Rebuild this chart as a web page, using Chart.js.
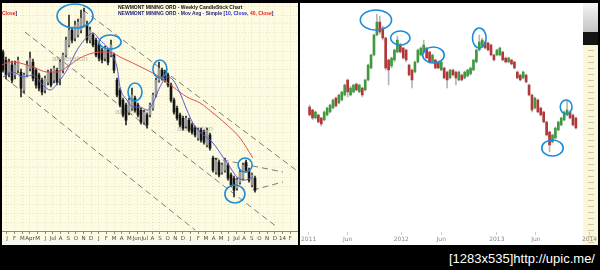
<!DOCTYPE html>
<html>
<head>
<meta charset="utf-8">
<script src="https://cdn.jsdelivr.net/npm/chart.js@4.4.0/dist/chart.umd.min.js"></script>
<style>
  html, body { margin:0; padding:0; background:#000; }
  #wrap { position:relative; width:600px; height:270px; overflow:hidden; background:#000; }
  .abs { position:absolute; }
  .tiny { font: bold 10px 'Liberation Sans', sans-serif; transform: scale(0.5); transform-origin: 0 0; white-space: nowrap; }
  .mark { font: 16px 'Liberation Sans', sans-serif; color:#8c8c8c; opacity:0.55; transform: scale(0.5); transform-origin: 0 0; white-space: nowrap; }
</style>
</head>
<body>
<div id="wrap">
  <div class="abs" style="left:2px;top:3px;width:296px;height:242px;background:#fdfbe1;"></div>
  <div class="abs" style="left:2px;top:239px;width:296px;height:6px;background:#f6f6f0;"></div>
  <div class="abs mark" style="left:52px;top:54px;">akberaton</div>
  <div class="abs mark" style="left:115px;top:107px;">akberaton</div>
  <div class="abs mark" style="left:177px;top:124px;">akberaton</div>

  <div class="abs" style="left:300px;top:3px;width:283px;height:242px;background:#fff;"></div>
  <div class="abs" style="left:583px;top:3px;width:15px;height:242px;background:#fbf6da;"></div>
  <div class="abs" style="left:588px;top:45px;width:6px;height:200px;background:repeating-linear-gradient(to bottom,#fbf6da 0 5px,#cfc7a0 5px 6px);"></div>
  <div class="abs" style="left:583px;top:3px;width:15px;height:29px;background:linear-gradient(#f4f4f4,#c4c4c4);"></div>
  <div class="abs" style="left:583px;top:32px;width:15px;height:13px;background:#141414;"></div>

  <canvas id="left" class="abs" style="left:2px;top:3px;" width="296" height="242"></canvas>
  <canvas id="right" class="abs" style="left:300px;top:3px;" width="298" height="242"></canvas>

  <div class="abs tiny" style="left:118px;top:4px;color:#111;">NEWMONT MINING ORD - Weekly CandleStick Chart</div>
  <div class="abs tiny" style="left:118px;top:10px;color:#22227a;">NEWMONT MINING ORD - Mov Avg - Simple [<span style="color:#1c1cf0">10, Close,</span> <span style="color:#e42020">40, Close</span>]</div>
  <div class="abs tiny" style="left:2px;top:10px;color:#22227a;"><span style="color:#e42020">Close</span>]</div>

  <div class="abs" style="left:449px;top:251px;color:#fff;font:13px 'Liberation Sans',sans-serif;white-space:nowrap;">[1283x535]http://upic.me/</div>
</div>
<script>
// Newmont weekly candles (left panel)
var leftOpen = [61.7, 59.7, 56.7, 58.5, 56, 57.2, 56.7, 52.2, 56, 57.7,
    59.2, 57.2, 56, 54.7, 52.2, 54.2, 56.7, 54.7, 57.2, 55.2,
    57.2, 61, 63.5, 67.2, 65.2, 66, 67.2, 68.5, 68.5, 64.7,
    66, 64.7, 63.5, 62.2, 60.2, 62.2, 61, 61, 54.7, 52.2,
    49.7, 48.5, 46.7, 47.7, 50.2, 48.5, 47.2, 44.2, 46, 46,
    47.7, 51, 54.7, 57.2, 56.7, 56, 53.5, 49.7, 47.7, 46,
    45.2, 43.2, 44.7, 43.5, 42.7, 40.2, 42.2, 41.7, 38.5, 41,
    35.2, 31.7, 34.2, 31.7, 32.2, 33.5, 31, 30.2, 27.7, 29.2,
    30.2, 34.2, 32.2, 28.5, 30.2];
var leftHigh = [62.2, 60.5, 60, 59.5, 59.5, 60.5, 57.5, 56.5, 59.5, 61.7,
    60, 57.7, 56.5, 55.2, 55.7, 57.2, 57.5, 58.2, 57.7, 59.7,
    61.5, 65.5, 71, 68, 69.5, 70, 72.2, 72.7, 69.5, 68,
    66.5, 65.2, 64, 62.7, 63.2, 62.7, 64.7, 61.5, 55.2, 52.7,
    50.2, 49, 50.2, 52.7, 50.7, 49, 47.7, 47.2, 46.5, 49,
    51.5, 55.2, 59.2, 57.7, 57.2, 56.5, 54, 50.2, 48.2, 46.5,
    45.7, 45.7, 45.2, 44, 43.2, 42.7, 42.7, 42.2, 42.7, 41.5,
    35.7, 35.2, 34.7, 34, 35.2, 34, 31.5, 30.7, 30.2, 32.2,
    34, 34.7, 32.7, 31.5, 30.7];
var leftLow = [56.7, 55, 55.5, 54, 55, 56.5, 50.5, 51.5, 55.5, 57,
    54.5, 52.7, 52, 51, 51.5, 53.5, 53, 54, 53.5, 53.5,
    56.5, 60.5, 63, 64, 64.5, 65.5, 66.5, 68, 64, 64,
    63, 60.5, 59.5, 59, 59.5, 58.5, 60.5, 56.5, 50.5, 48,
    45.5, 43.5, 46, 47.2, 46.7, 45.5, 43.7, 43.7, 42.7, 45.5,
    47.2, 50.5, 54.2, 54.7, 54.2, 53, 49.2, 46.2, 44.7, 43,
    42.2, 42.7, 41.7, 41.2, 40.5, 39.7, 39.2, 38.7, 38, 37.2,
    31.7, 31.2, 30.5, 31.2, 31.7, 29.7, 28, 25.5, 27.2, 28.7,
    29.7, 31.7, 29.2, 28, 26.7];
var leftClose = [57.2, 56, 59.2, 54.7, 58.5, 59.7, 52.7, 56, 58.5, 60.2,
    55.2, 53.5, 52.7, 51.7, 55.2, 56.7, 53.5, 57.7, 54.2, 59.2,
    61, 64.7, 67.2, 64.7, 68.5, 69.2, 70.2, 71.7, 64.7, 67.2,
    63.5, 61, 60.2, 59.7, 62.7, 59.2, 63.5, 57.2, 51, 48.5,
    46, 44.7, 49.7, 51, 47.2, 46, 44.2, 46.7, 43.5, 48.5,
    51, 54.7, 57.7, 55.2, 54.7, 53.5, 49.7, 46.7, 45.2, 43.5,
    42.7, 45.2, 42.2, 41.7, 41, 42.2, 39.7, 39.2, 42.2, 37.7,
    32.2, 34.7, 31, 33.5, 34.7, 30.2, 28.5, 27.2, 29.7, 31.7,
    33.5, 32.2, 29.7, 31, 27.2];

// moving averages (week index, price)
var ma10X = [0, 3.3, 6.7, 10, 13.3, 15.7, 19, 21.3, 24.7, 28, 30, 32.3, 34.7, 36.7, 38, 39, 41.3, 43.3, 45.7, 48,
    50, 52.3, 54.7, 56.7, 59, 61.3, 63.3, 65.7, 70, 73.3, 76.3, 78, 80.7, 83.3];
var ma10 = [55.5, 56.75, 55.5, 56, 53.5, 52.25, 54.75, 57.25, 62.25, 65.5, 66.5, 64.75, 63, 60.5, 58, 53, 49.75, 48, 48, 47.25,
    49, 53, 55.5, 54.75, 51.5, 47.25, 44, 41.75, 39, 35.5, 32.25, 30.5, 29.75, 30.5];
var ma40X = [-0.4, 2.3, 5.7, 10, 14.7, 18, 21.3, 25.7, 30, 33.3, 36.7, 39, 43.3, 48, 52.3, 56.7, 61.3, 65.7, 70, 74.7, 79, 83.3];
var ma40 = [58.5, 59.25, 59, 58, 56.75, 56.75, 58, 60.25, 61.5, 61.75, 61.5, 60.5, 59, 57.25, 55.5, 53, 50.5, 49, 46.5, 43.5, 40.25, 35.25];

// dashed trend lines [x0, y0, x1, y1]
var chanA = [26.7, 72.25, 99, 31.5];
var chanB = [7.3, 66.75, 91.3, 18];
var chanC = [0.7, 55.25, 64, 17.25];
var triUp = [70, 35.25, 93.3, 31.75];
var triLow = [83.3, 27.25, 93.3, 29.25];

// circled spots [x, y, rx, ry]
var leftOvals = [[24, 70.75, 6, 3], [35.7, 64.25, 3.67, 1.75], [44, 51.75, 2.33, 2.25],
    [52.3, 57.5, 2.33, 2.25], [80.7, 33.5, 2.33, 1.75], [77.3, 26.25, 3.33, 2.25]];

var leftMonths = ['J', 'F', 'M', 'Apr', 'M', 'J', 'Jul', 'A', 'S', 'O', 'N', 'D',
    'J', 'F', 'M', 'A', 'M', 'Jun', 'Jul', 'A', 'S', 'O', 'N', 'D',
    'J', 'F', 'M', 'A', 'M', 'J', 'Jul', 'A', 'S', 'O', 'N', 'D', '14', 'F'];

// right panel weekly candles
var rightOpen = [1376, 1358, 1310, 1328, 1310, 1298, 1328, 1346, 1370, 1430,
    1400, 1418, 1448, 1538, 1448, 1466, 1514, 1466, 1490, 1478,
    1538, 1610, 1688, 1808, 1886, 1850, 1790, 1658, 1622, 1658,
    1706, 1748, 1730, 1718, 1628, 1598, 1586, 1646, 1688, 1706,
    1730, 1706, 1646, 1658, 1646, 1598, 1610, 1586, 1550, 1598,
    1586, 1538, 1568, 1550, 1562, 1574, 1598, 1646, 1718, 1742,
    1766, 1760, 1748, 1688, 1688, 1688, 1706, 1670, 1646, 1658,
    1646, 1586, 1568, 1550, 1568, 1508, 1448, 1370, 1418, 1370,
    1346, 1286, 1226, 1166, 1190, 1238, 1268, 1298, 1328, 1346,
    1328, 1310];
var rightHigh = [1388, 1364, 1352, 1334, 1316, 1352, 1376, 1394, 1424, 1436,
    1454, 1472, 1514, 1544, 1500, 1514, 1520, 1514, 1496, 1544,
    1634, 1694, 1814, 1934, 1922, 1862, 1796, 1664, 1676, 1724,
    1802, 1760, 1736, 1724, 1634, 1604, 1652, 1724, 1736, 1778,
    1736, 1712, 1694, 1664, 1652, 1652, 1616, 1592, 1604, 1604,
    1592, 1592, 1574, 1592, 1604, 1616, 1664, 1724, 1808, 1790,
    1772, 1766, 1754, 1694, 1724, 1736, 1712, 1676, 1676, 1664,
    1652, 1592, 1574, 1592, 1574, 1514, 1454, 1436, 1424, 1376,
    1352, 1292, 1232, 1214, 1256, 1292, 1316, 1352, 1418, 1352,
    1334, 1316];
var rightLow = [1322, 1300, 1304, 1280, 1262, 1292, 1322, 1340, 1364, 1376,
    1394, 1412, 1442, 1436, 1442, 1460, 1472, 1460, 1436, 1472,
    1532, 1604, 1682, 1802, 1814, 1778, 1598, 1508, 1610, 1646,
    1700, 1700, 1664, 1646, 1562, 1490, 1580, 1640, 1682, 1700,
    1664, 1640, 1640, 1604, 1604, 1592, 1544, 1490, 1544, 1562,
    1508, 1532, 1532, 1544, 1556, 1568, 1592, 1640, 1712, 1736,
    1724, 1712, 1682, 1652, 1682, 1682, 1652, 1640, 1640, 1628,
    1604, 1544, 1532, 1544, 1520, 1442, 1346, 1364, 1340, 1322,
    1280, 1202, 1106, 1160, 1184, 1232, 1262, 1292, 1322, 1304,
    1262, 1244];
var rightClose = [1328, 1310, 1346, 1286, 1274, 1346, 1370, 1388, 1418, 1382,
    1448, 1466, 1508, 1466, 1490, 1508, 1478, 1508, 1448, 1538,
    1628, 1688, 1808, 1886, 1826, 1790, 1610, 1598, 1670, 1718,
    1778, 1706, 1670, 1658, 1568, 1538, 1646, 1718, 1730, 1748,
    1670, 1646, 1688, 1610, 1610, 1646, 1550, 1538, 1598, 1568,
    1550, 1586, 1538, 1586, 1598, 1610, 1658, 1718, 1766, 1778,
    1730, 1718, 1688, 1658, 1718, 1730, 1658, 1646, 1670, 1634,
    1610, 1550, 1538, 1586, 1526, 1448, 1358, 1430, 1346, 1328,
    1286, 1208, 1148, 1208, 1250, 1286, 1310, 1346, 1358, 1310,
    1268, 1250];

var rightOvals = [[22.67, 1898, 5.33, 60], [31, 1790, 3.33, 42], [42.33, 1688, 3.67, 48],
    [58, 1790, 2.33, 60], [87.67, 1376, 2, 42], [83, 1130, 3.67, 48]];

var rightTickPos = [-0.33, 13, 31.33, 45, 64, 77.33, 95.67];
var rightTickLbl = ['2011', 'Jun', '2012', 'Jun', '2013', 'Jun', '2014'];

var ovalPlugin = {
    id: 'ovals',
    afterDatasetsDraw: function (chart, args, opts) {
        var ctx = chart.ctx;
        var sx = chart.scales.x, sy = chart.scales.y;
        ctx.save();
        ctx.strokeStyle = '#1c8cd6';
        ctx.lineWidth = 1.6;
        opts.list.forEach(function (o) {
            var cx = sx.getPixelForValue(o[0]);
            var cy = sy.getPixelForValue(o[1]);
            var rx = Math.abs(sx.getPixelForValue(o[0] + o[2]) - cx);
            var ry = Math.abs(sy.getPixelForValue(o[1] + o[3]) - cy);
            ctx.beginPath();
            ctx.ellipse(cx, cy, rx, ry, 0, 0, Math.PI * 2);
            ctx.stroke();
        });
        ctx.restore();
    }
};

function velas(op, hi, lo, cl, wick, up, down) {
    return [{
        type: 'bar',
        data: op.map(function (o, i) { return { x: i, y: [lo[i], hi[i]] }; }),
        backgroundColor: wick,
        barThickness: 1,
        grouped: false,
        order: 2
    }, {
        type: 'bar',
        data: op.map(function (o, i) { return { x: i, y: [Math.min(o, cl[i]), Math.max(o, cl[i])] }; }),
        backgroundColor: op.map(function (o, i) { return cl[i] >= o ? up : down; }),
        barThickness: 2,
        grouped: false,
        order: 1
    }];
}

function puntos(xs, ys) {
    return xs.map(function (x, i) { return { x: x, y: ys[i] }; });
}

function linea(a) {
    return {
        type: 'line',
        data: [{ x: a[0], y: a[1] }, { x: a[2], y: a[3] }],
        borderColor: '#7a7a7a',
        borderWidth: 1,
        borderDash: [6, 4],
        pointRadius: 0,
        order: 3
    };
}

var gridCol = 'rgba(190,180,120,0.3)';

var leftSets = velas(leftOpen, leftHigh, leftLow, leftClose, '#2a2a2a', '#9a9a9a', '#151515');
leftSets.push({ type: 'line', data: puntos(ma10X, ma10), borderColor: '#5a5ad0', borderWidth: 1, pointRadius: 0, cubicInterpolationMode: 'monotone', order: 0 });
leftSets.push({ type: 'line', data: puntos(ma40X, ma40), borderColor: '#e05050', borderWidth: 1, pointRadius: 0, cubicInterpolationMode: 'monotone', order: 0 });
[chanA, chanB, chanC, triUp, triLow].forEach(function (a) { leftSets.push(linea(a)); });

new Chart(document.getElementById('left'), {
    type: 'bar',
    data: { datasets: leftSets },
    plugins: [ovalPlugin],
    options: {
        responsive: false,
        animation: false,
        events: [],
        layout: { padding: 0 },
        plugins: { legend: { display: false }, tooltip: { enabled: false }, ovals: { list: leftOvals } },
        scales: {
            x: {
                type: 'linear', min: -1 / 3, max: 98.333, offset: false,
                afterBuildTicks: function (s) { s.ticks = leftMonths.map(function (m, k) { return { value: 1.333 + 2.55 * k }; }); },
                afterFit: function (s) { s.height = 14; },
                ticks: { autoSkip: false, maxRotation: 0, padding: 1, color: '#444', font: { size: 5.5, family: 'DejaVu Sans' },
                    callback: function (v, k) { return leftMonths[k]; } },
                grid: { color: gridCol, offset: false, tickLength: 3, tickColor: '#888' },
                border: { display: true, color: '#888', dash: [1, 2] }
            },
            y: {
                min: 17, max: 74,
                afterBuildTicks: function (s) {
                    var t = [];
                    for (var v = 17; v <= 74; v += 2.25) t.push({ value: v });
                    s.ticks = t;
                },
                afterFit: function (s) { s.width = 0; },
                ticks: { display: false },
                grid: { color: gridCol, drawTicks: false },
                border: { display: false, dash: [1, 2] }
            }
        }
    }
});

new Chart(document.getElementById('right'), {
    type: 'bar',
    data: { datasets: velas(rightOpen, rightHigh, rightLow, rightClose, '#b5b5b5', '#3f9a3f', '#b03838') },
    plugins: [ovalPlugin],
    options: {
        responsive: false,
        animation: false,
        events: [],
        layout: { padding: 0 },
        plugins: { legend: { display: false }, tooltip: { enabled: false }, ovals: { list: rightOvals } },
        scales: {
            x: {
                type: 'linear', min: -1, max: 98.333, offset: false,
                afterBuildTicks: function (s) { s.ticks = rightTickPos.map(function (p) { return { value: p }; }); },
                afterFit: function (s) { s.height = 13; },
                ticks: { autoSkip: false, maxRotation: 0, padding: 1, color: '#888', font: { size: 6, family: 'DejaVu Sans' },
                    callback: function (v, k) { return rightTickLbl[k]; } },
                grid: { drawOnChartArea: false, offset: false, tickLength: 3, tickColor: '#ccc' },
                border: { display: false }
            },
            y: { display: false, min: 626, max: 2000 }
        }
    }
});
</script>
</body>
</html>
